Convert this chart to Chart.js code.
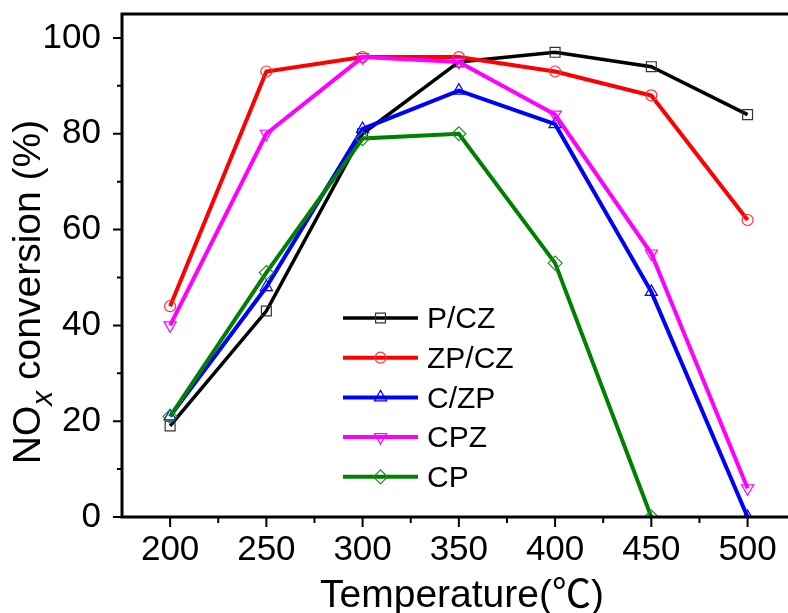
<!DOCTYPE html>
<html>
<head>
<title>nox_conversion</title>
<script src="https://cdn.jsdelivr.net/npm/chart.js"></script>
<style>
  body { margin: 0; background: #fff; }
  #chartCanvas { display: block; }
</style>
</head>
<body>
<canvas id="chartCanvas" width="788" height="613"></canvas>
<script>
// data
const temperatures = [200, 250, 300, 350, 400, 450, 500];
const seriesNames = ['P/CZ', 'ZP/CZ', 'C/ZP', 'CPZ', 'CP'];
const pCZ  = [19, 43, 80, 95, 97, 94, 84];
const zpCZ = [44, 93, 96, 96, 93, 88, 62];
const cZP  = [21, 48, 81, 89, 82, 47, 0];
const cPZ  = [40, 80, 96, 95, 84, 55, 6];
const cP   = [21, 51, 79, 80, 53, 0];

const xTickLabels = [200, 250, 300, 350, 400, 450, 500];
const xMinorTicks = [225, 275, 325, 375, 425, 475];
const yTickLabels = [0, 20, 40, 60, 80, 100];
const yMinorTicks = [10, 30, 50, 70, 90];

const FONT = '"Liberation Sans", Arial, "Noto Sans CJK SC", sans-serif';

const styles = [
    { color: '#000000', mark: '#333333', pointStyle: 'rect', radius: 7, rotation: 0, width: 3.5 },
    { color: '#ff0000', mark: '#ff3030', pointStyle: 'circle', radius: 5.5, rotation: 0, width: 4 },
    { color: '#0000ff', mark: '#0000ff', pointStyle: 'triangle', radius: 7, rotation: 0, width: 4 },
    { color: '#ff00ff', mark: '#ff00ff', pointStyle: 'triangle', radius: 7, rotation: 180, width: 4 },
    { color: '#008000', mark: '#228b22', pointStyle: 'rectRot', radius: 7, rotation: 0, width: 4 }
];
const allSeries = [pCZ, zpCZ, cZP, cPZ, cP];

const datasets = allSeries.map((vals, i) => ({
    label: seriesNames[i],
    data: vals.map((v, j) => ({ x: temperatures[j], y: v })),
    borderColor: styles[i].color,
    borderWidth: styles[i].width,
    pointStyle: styles[i].pointStyle,
    pointRadius: styles[i].radius,
    pointRotation: styles[i].rotation,
    pointBorderColor: styles[i].mark,
    pointBackgroundColor: 'rgba(0,0,0,0)',
    pointBorderWidth: 1.2,
    tension: 0,
    order: -i
}));

const decorations = {
    id: 'decorations',
    afterDraw(chart) {
        const ctx = chart.ctx;
        const area = chart.chartArea;
        const xs = chart.scales.x, ys = chart.scales.y;
        ctx.save();

        // frame
        ctx.strokeStyle = '#000';
        ctx.lineWidth = 3;
        ctx.strokeRect(area.left, area.top, area.right - area.left + 10, area.bottom - area.top);

        // tick marks, outward
        ctx.lineWidth = 2;
        ctx.beginPath();
        xTickLabels.forEach(v => { const p = xs.getPixelForValue(v); ctx.moveTo(p, area.bottom); ctx.lineTo(p, area.bottom + 10); });
        xMinorTicks.forEach(v => { const p = xs.getPixelForValue(v); ctx.moveTo(p, area.bottom); ctx.lineTo(p, area.bottom + 6); });
        yTickLabels.forEach(v => { const p = ys.getPixelForValue(v); ctx.moveTo(area.left, p); ctx.lineTo(area.left - 9, p); });
        yMinorTicks.forEach(v => { const p = ys.getPixelForValue(v); ctx.moveTo(area.left, p); ctx.lineTo(area.left - 5, p); });
        ctx.stroke();

        // axis titles
        ctx.fillStyle = '#000';
        ctx.textBaseline = 'alphabetic';
        ctx.textAlign = 'center';
        ctx.font = '39px ' + FONT;
        ctx.fillText('Temperature(\u2103)', 462, 607);

        ctx.save();
        ctx.translate(26, 292);
        ctx.rotate(-Math.PI / 2);
        ctx.textAlign = 'left';
        const bigFont = '39px ' + FONT;
        const subFont = 'italic 30px ' + FONT;
        ctx.font = bigFont;
        const w1 = ctx.measureText('NO').width;
        const w3 = ctx.measureText(' conversion (%)').width;
        ctx.font = subFont;
        const w2 = ctx.measureText('x').width;
        let x0 = -(w1 + w2 + w3) / 2;
        ctx.font = bigFont;
        ctx.fillText('NO', x0, 14);
        ctx.font = subFont;
        ctx.fillText('x', x0 + w1, 26);
        ctx.font = bigFont;
        ctx.fillText(' conversion (%)', x0 + w1 + w2, 14);
        ctx.restore();

        // legend inside plot
        const lx1 = 343, lx2 = 418, tx = 427;
        ctx.font = '30px ' + FONT;
        ctx.textAlign = 'left';
        ctx.textBaseline = 'middle';
        seriesNames.forEach((name, i) => {
            const y = 318 + i * 39.7;
            const s = styles[i];
            ctx.strokeStyle = s.color;
            ctx.lineWidth = s.width;
            ctx.beginPath();
            ctx.moveTo(lx1, y);
            ctx.lineTo(lx2, y);
            ctx.stroke();
            ctx.strokeStyle = s.mark;
            ctx.lineWidth = 1.2;
            ctx.fillStyle = 'rgba(0,0,0,0)';
            Chart.helpers.drawPoint(ctx, { pointStyle: s.pointStyle, radius: s.radius, rotation: s.rotation, borderWidth: 1.2 }, (lx1 + lx2) / 2, y);
            ctx.fillStyle = '#000';
            ctx.fillText(name, tx, y + 2);
        });
        ctx.restore();
    }
};

new Chart(document.getElementById('chartCanvas'), {
    type: 'line',
    data: { datasets: datasets },
    options: {
        responsive: false,
        animation: false,
        events: [],
        layout: { autoPadding: false, padding: { top: 14, left: 0, right: 0, bottom: 0 } },
        plugins: { legend: { display: false }, tooltip: { enabled: false } },
        scales: {
            x: {
                type: 'linear',
                min: 175,
                max: 521,
                afterBuildTicks: s => { s.ticks = xTickLabels.map(v => ({ value: v })); },
                afterFit: s => { s.height = 96; s.paddingLeft = 0; s.paddingRight = 0; },
                grid: { display: false, drawTicks: false },
                border: { display: false },
                ticks: { color: '#000', font: { size: 35, family: FONT }, padding: 12, maxRotation: 0, autoSkip: false }
            },
            y: {
                min: 0,
                max: 105,
                afterBuildTicks: s => { s.ticks = yTickLabels.map(v => ({ value: v })); },
                afterFit: s => { s.width = 122; s.paddingTop = 0; s.paddingBottom = 0; },
                grid: { display: false, drawTicks: false },
                border: { display: false },
                ticks: { color: '#000', font: { size: 35, family: FONT }, padding: 21 }
            }
        }
    },
    plugins: [decorations]
});
</script>
</body>
</html>
